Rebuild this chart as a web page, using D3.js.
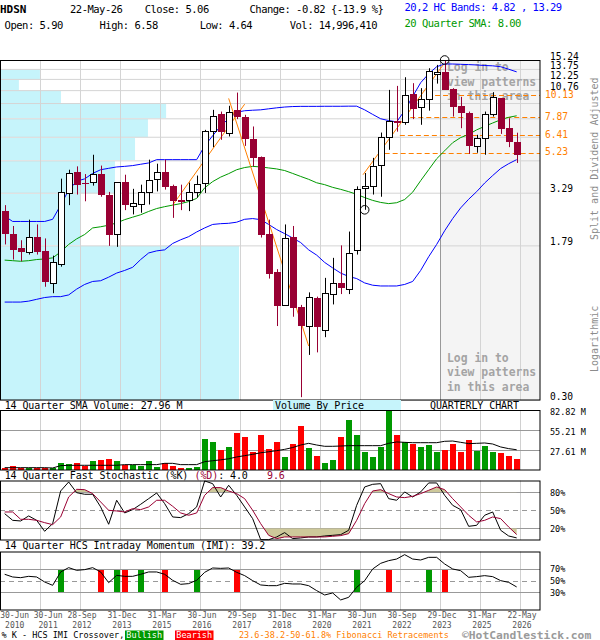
<!DOCTYPE html>
<html>
<head>
<meta charset="utf-8">
<script src="https://cdn.jsdelivr.net/npm/d3@7"></script>
<style>
  body { margin: 0; background: #fff; }
  svg { display: block; font-family: 'DejaVu Sans Mono', monospace; }
</style>
</head>
<body>
<div id="chart"></div>
<script>
// quarterly candles, 2010 Q2 .. 2026 Q2
const opens  = [2.66,2.05,1.74,1.66,1.98,1.67,1.16,1.45,3.28,4.18, 3.68,3.70,4.08,3.22,2.04,3.71,2.83,2.89,3.32,3.86,
                4.18,3.54,3.04,3.04,3.32,3.68,6.72,8.18,6.62,8.57, 7.87,6.13,4.98,2.03,1.32,0.90,1.97,0.88,0.71,0.98,
                0.67,1.02,1.16,1.07,1.70,3.44,3.54,4.52,6.27,7.49, 7.49,10.30,8.84,9.69,13.0,13.32,10.87,8.98,8.25,5.61,
                6.18,8.15,9.78,6.93,5.90];
const highs  = [2.85,2.24,1.90,2.41,2.28,1.94,1.59,3.87,4.29,4.46, 4.08,5.10,4.50,3.32,3.72,4.05,3.44,3.61,4.82,4.60,
                4.82,3.61,3.61,3.70,4.01,6.80,8.57,8.40,8.98,10.46, 8.09,7.07,5.00,2.41,1.36,2.28,2.24,0.90,1.04,0.99,
                1.23,1.55,1.79,2.10,3.54,4.13,4.92,6.59,10.79,11.30, 12.49,11.66,11.01,13.86,14.4,15.24,11.01,9.96,8.40,6.42,
                8.40,10.51,9.80,7.78,6.58];
const lows   = [1.81,1.52,1.49,1.61,1.61,1.11,1.03,1.40,2.85,3.22, 2.98,3.57,3.14,1.78,1.76,2.69,2.56,2.61,2.87,3.34,
                3.41,2.46,2.69,2.66,3.11,3.28,5.57,6.06,6.30,7.70, 5.65,4.46,1.96,1.22,0.705,0.89,0.785,0.31,0.505,0.52,
                0.62,0.905,1.02,1.02,1.61,2.70,3.22,3.14,5.40,6.66, 7.21,7.70,7.21,8.49,11.6,10.80,7.93,6.93,5.15,5.22,
                5.10,7.93,6.49,5.57,4.64];
const closes = [2.03,1.70,1.66,1.98,1.66,1.17,1.47,3.32,4.13,3.61, 3.65,4.08,3.19,2.03,3.71,2.83,2.93,3.32,3.83,4.18,
                3.50,2.98,2.98,3.32,3.64,6.72,8.02,6.62,8.40,7.87, 6.11,4.95,2.02,1.28,0.895,1.96,0.865,0.71,0.99,0.70,
                1.03,1.16,1.09,1.63,3.44,3.54,4.46,6.27,7.55,7.29, 10.18,8.67,9.69,13.43,13.3,10.87,8.84,8.31,5.61,6.18,
                8.15,9.90,6.85,5.87,5.06];

// 20,2 HC bands and 20 quarter SMA
const upperBand = [2.51,2.36,2.36,2.36,2.36,2.36,2.42,2.85,3.39,3.76, 3.86,4.11,4.29,4.36,4.43,4.46,4.50,4.57,4.64,4.82,
                   4.82,4.82,4.82,4.82,4.82,5.65,6.35,7.12,7.73,8.34, 8.48,8.53,8.57,8.67,8.77,8.85,8.90,8.92,8.92,8.92,
                   8.93,8.93,8.93,8.94,8.94,8.57,8.13,7.73,7.57,7.45, 8.50,10.0,11.72,13.0,14.1,14.55,14.55,14.5,14.45,14.39,
                   14.3,14.25,14.1,13.7,13.29];
const smaLine   = [1.51,1.50,1.49,1.50,1.52,1.53,1.55,1.66,1.81,1.93, 2.03,2.19,2.22,2.26,2.32,2.41,2.48,2.55,2.65,2.74,
                   2.80,2.85,2.90,2.97,3.08,3.48,3.74,3.94,4.10,4.29, 4.40,4.46,4.43,4.38,4.33,4.25,4.11,3.97,3.84,3.69,
                   3.61,3.50,3.42,3.33,3.23,3.11,3.01,2.94,2.90,2.93, 3.04,3.31,3.78,4.29,4.87,5.34,5.86,6.22,6.45,6.80,
                   7.08,7.36,7.64,7.86,8.00];
const lowerBand = [0.93,0.93,0.93,0.94,0.96,0.98,0.99,0.99,1.01,1.08, 1.14,1.18,1.19,1.24,1.30,1.34,1.39,1.52,1.64,1.68,
                   1.70,1.83,1.91,1.98,2.09,2.19,2.28,2.30,2.31,2.34, 2.42,2.44,2.41,2.28,2.15,2.05,1.95,1.85,1.70,1.60,
                   1.47,1.38,1.30,1.25,1.22,1.16,1.13,1.12,1.12,1.12, 1.14,1.18,1.34,1.57,1.81,2.12,2.44,2.76,3.05,3.33,
                   3.68,4.01,4.35,4.60,4.82];

// volume (millions) and its 14 quarter SMA
const volumes = [3.2,5.5,3.2,3.2,3.2,3.2,2.3,9.7,8.3,9.7, 5.5,12.9,14.3,15.2,12.9,7.4,7.4,5.5,12.9,4.1,
                 9.2,6.0,2.8,3.2,4.1,42.8,39.1,27.6,31.8,51.6, 45.6,25.3,48.3,29.0,39.1,18.0,36.4,60.8,30.4,19.3,
                 9.7,13.8,45.6,69.0,48.3,24.9,18.0,32.2,81.9,48.3, 38.2,36.4,31.8,34.5,24.9,27.6,36.4,24.9,41.4,26.7,
                 33.1,24.9,23.5,19.3,15.0];
const volSMA  = [3.2,3.2,3.2,3.2,3.2,3.2,2.8,6.0,6.4,6.5, 6.5,6.5,6.5,6.5,6.5,7.4,7.4,7.4,7.4,7.4,
                 9.2,9.2,7.4,7.4,7.4,11.5,12.8,14.0,15.5,18.0, 19.8,21.6,23.8,25.2,26.7,28.5,31.0,34.5,36.8,34.5,
                 32.7,32.7,33.1,33.6,33.6,33.6,33.6,33.6,36.8,38.7, 38.2,37.7,37.7,37.7,37.7,39.6,40.0,38.2,36.4,36.8,
                 37.3,35.9,31.8,29.5,27.96];

// 14 quarter fast stochastic
const stochK = [44.4,33.3,32.2,40.6,33.3,15,27.8,82.2,97.2,79.4, 76.7,76.7,55.6,26.7,66.7,45.6,51.1,60,69.4,78.9,
                61.1,38.9,37.8,44.4,55.6,98.9,94.4,72.2,91.7,75, 55.6,36.1,1.1,1,5.6,12.8,2.8,3.9,5.6,5.6,
                7.2,8.3,9.4,16.7,58.3,88.9,93.3,94.4,69.4,66.7, 80.6,72.2,80.6,95.6,95.6,75,58.3,51.1,23.3,25,
                41.7,47.2,16.7,7.2,4.0];
const stochD = [47.2,47.2,35,35,33.3,29.4,26.1,38.9,72.2,85, 84.4,77.8,63.9,50,48.9,47.2,52.8,51.1,55.6,66.7,
                66.7,56.7,45.6,41.7,45.6,75,87.8,87.8,82.2,77.8, 69.4,50,27.8,8.3,2.8,5.6,5.6,5.6,5.6,5.6,
                5.6,6.7,7.8,11.1,33.3,61.1,82.2,84.4,77.8,72.2, 71.1,73.3,77.8,83.3,88.9,84.4,69.4,55.6,41.7,30.6,
                33.3,38.9,36.1,22.2,9.6];

// 14 quarter HCS intraday momentum
const imi = [60.9,56.3,55.1,57.4,56.3,47.7,42,64.9,72.3,67.7, 68.9,72.3,64.9,46.6,59.1,57.4,57.4,60.9,64.9,64.9,
             60.9,50.6,43.7,44.9,50.6,64.3,71.7,71.1,71.7,64.3, 58.6,50,42.6,41.4,41.4,45.4,44.3,44.3,41.4,32.9,
             25.4,28.9,16.9,21.4,38.6,50,70,79.7,84.3,87.1, 94.6,87.1,85.4,90,90,78.6,70,67.1,55.7,56.9,
             58.6,56.9,50,47.1,39.2];
const bullishIdx = [7, 14, 17, 24, 44, 53];
const bearishIdx = [12, 15, 20, 29, 48, 55];

// axis ticks
const priceTicks = [0.30, 1.79, 3.29, 4.78, 6.28, 7.77, 9.27, 10.76, 12.25, 13.75, 15.24];
const priceTickLabels = ['0.30', '1.79', '3.29', '', '', '', '', '10.76', '12.25', '13.75', '15.24'];
const volTicks = [27.61, 55.21, 82.82];
const stochTicks = [20, 50, 80];
const imiTicks = [30, 50, 70];
const dateTickIdx = [0, 4, 9, 14, 19, 24, 29, 34, 39, 44, 49, 54, 59, 64];
const dateTickDay = ['30-Jun','30-Jun','28-Sep','31-Dec','31-Mar','30-Jun','29-Sep','31-Dec','31-Mar','30-Jun','30-Sep','29-Dec','31-Mar','22-May'];
const dateTickYear = ['2010','2011','2012','2013','2015','2016','2017','2018','2020','2021','2022','2023','2025','2026'];

// volume by price, share of the largest band, one per price band (low to high)
const vbpShare = [100, 33.9, 48.1, 56.5, 61.9, 69.5, 25.5, 7.9, 16.7, 0];

// fibonacci retracements and trend lines
const fibLevels = [10.13, 7.87, 6.41, 5.23];
const fibLabels = ['10.13', '7.87', '6.41', '5.23'];
const fibStartIdx = [52.8, 50.7, 49.4, 47.5];
const trendFromIdx = [21, 28, 44.8];
const trendFromPx  = [2.85, 9.78, 4.05];
const trendToIdx   = [30, 38, 54.8];
const trendToPx    = [9.15, 0.56, 14.39];
const pivotIdx = [45, 55];
const pivotPx  = [2.70, 15.24];

const headerRow1 = ['22-May-26', 'Close: 5.06', 'Change: -0.82 {-13.9 %}'];
const headerRow2 = ['Open: 5.90', 'High: 6.58', 'Low: 4.64', 'Vol: 14,996,410'];

// dimensions
const W = 600, H = 640, plotW = 540;
const maroon = '#990033';

const svg = d3.select('#chart').append('svg')
  .attr('width', W).attr('height', H);

const x = d3.scaleLinear().domain([0, 64]).range([4.67, 516.67]);
const yP = d3.scaleLog().domain([0.30, 15.24]).range([400, 60]);
const yV = d3.scaleLinear().domain([0, 82.82]).range([470, 410]);
const yS = d3.scaleLinear().domain([0, 100]).range([540.3, 480.3]);
const yI = d3.scaleLinear().domain([0, 100]).range([609.8, 551.5]);
const vbpX = d3.scaleLinear().domain([0, 100]).range([0, 239]);

const cx = i => Math.round(x(i)) + 0.5;
const gx = i => Math.round(x(i) + 3.33) + 0.5;

// header
const hdr = svg.append('g').attr('font-size', 10.5).attr('letter-spacing', -0.5);
hdr.append('text').attr('x', 0).attr('y', 13).attr('font-weight', 'bold')
   .attr('font-size', 11).attr('letter-spacing', 0).text('HDSN');
[70, 144.7, 249.5].forEach((px, k) => hdr.append('text').attr('x', px).attr('y', 13).text(headerRow1[k]));
[4.6, 99.5, 199.8, 289.7].forEach((px, k) => hdr.append('text').attr('x', px).attr('y', 28.5).text(headerRow2[k]));
hdr.append('text').attr('x', 404.5).attr('y', 11).attr('fill', '#0000ff')
   .text(`20,2 HC Bands: ${lowerBand[64].toFixed(2)} , ${upperBand[64].toFixed(2)}`);
hdr.append('text').attr('x', 404.5).attr('y', 27).attr('fill', '#009900')
   .text(`20 Quarter SMA: ${smaLine[64].toFixed(2)}`);

// ---------- main price panel ----------
const main = svg.append('g');
main.append('rect').attr('x', 0).attr('y', 60).attr('width', plotW).attr('height', 340).attr('fill', '#fff');
main.append('rect').attr('x', gx(54)).attr('y', 60).attr('width', plotW - gx(54)).attr('height', 340).attr('fill', '#f4f4f4');

// volume by price bands
main.append('g').selectAll('rect')
  .data(vbpShare)
  .join('rect')
  .attr('x', 0)
  .attr('y', (d, i) => Math.round(yP(priceTicks[i + 1])) + 1)
  .attr('width', d => vbpX(d))
  .attr('height', (d, i) => Math.round(yP(priceTicks[i])) - Math.round(yP(priceTicks[i + 1])) - 1)
  .attr('fill', '#c6f4fb');

// grid
const gridY = main.append('g')
  .call(d3.axisRight(yP).tickValues(priceTicks).tickSize(plotW).tickFormat(''));
gridY.select('.domain').remove();
gridY.selectAll('line').attr('stroke', '#d4d4d4');

main.append('g').selectAll('line')
  .data(dateTickIdx.slice(1))
  .join('line')
  .attr('x1', d => gx(d)).attr('x2', d => gx(d))
  .attr('y1', 60).attr('y2', 400)
  .attr('stroke', d => d === 54 ? '#999' : '#d4d4d4');

// pattern notices
const notice = ['Log in to', 'view patterns', 'in this area'];
[71, 361.5].forEach(y0 => {
  main.append('g').selectAll('text')
    .data(notice)
    .join('text')
    .attr('x', 447).attr('y', (d, i) => y0 + i * 14.7)
    .attr('font-size', 11.4).attr('font-weight', 'bold').attr('fill', '#a4a4a4')
    .text(d => d);
});

// fibonacci retracements
main.append('g').selectAll('line')
  .data(fibLevels)
  .join('line')
  .attr('x1', (d, i) => x(fibStartIdx[i])).attr('x2', plotW)
  .attr('y1', d => Math.round(yP(d)) + 0.5).attr('y2', d => Math.round(yP(d)) + 0.5)
  .attr('stroke', '#ff8000').attr('stroke-dasharray', '5,3');

// bands
const bandLine = d3.line().x((d, i) => x(i)).y(d => yP(d));
[[upperBand, '#0000ff'], [lowerBand, '#0000ff'], [smaLine, '#009900']].forEach(([arr, col]) => {
  main.append('path').datum(arr).attr('d', bandLine)
    .attr('fill', 'none').attr('stroke', col).attr('stroke-width', 1);
});

// trend lines
main.append('g').selectAll('line')
  .data(trendFromIdx)
  .join('line')
  .attr('x1', d => x(d)).attr('y1', (d, i) => yP(trendFromPx[i]))
  .attr('x2', (d, i) => x(trendToIdx[i])).attr('y2', (d, i) => yP(trendToPx[i]))
  .attr('stroke', '#ff8000').attr('stroke-width', 1);

// candles
const candles = main.append('g').selectAll('g')
  .data(opens)
  .join('g');
candles.append('line')
  .attr('x1', (d, i) => cx(i)).attr('x2', (d, i) => cx(i))
  .attr('y1', (d, i) => yP(highs[i])).attr('y2', (d, i) => yP(lows[i]))
  .attr('stroke', (d, i) => closes[i] >= d ? '#000' : maroon);
candles.append('rect')
  .attr('x', (d, i) => closes[i] >= d ? cx(i) - 3 : cx(i) - 3.5)
  .attr('y', (d, i) => Math.round(yP(Math.max(d, closes[i]))) + (closes[i] >= d ? 0.5 : 0))
  .attr('width', (d, i) => closes[i] >= d ? 6 : 7)
  .attr('height', (d, i) => Math.max(1, Math.round(yP(Math.min(d, closes[i])) - yP(Math.max(d, closes[i])))))
  .attr('fill', (d, i) => closes[i] >= d ? '#fff' : maroon)
  .attr('stroke', (d, i) => closes[i] >= d ? '#000' : 'none');

// pivot circles
main.append('g').selectAll('circle')
  .data(pivotIdx)
  .join('circle')
  .attr('cx', d => x(d)).attr('cy', (d, i) => yP(pivotPx[i]))
  .attr('r', 4.3).attr('fill', 'none').attr('stroke', '#000');

main.append('rect').attr('x', 0.5).attr('y', 60.5).attr('width', plotW - 0.5).attr('height', 339.5)
  .attr('fill', 'none').attr('stroke', '#000');

// right price labels
const priceLabel = new Map(priceTicks.map((v, i) => [v, priceTickLabels[i]]));
const pAxis = svg.append('g').attr('transform', `translate(${plotW},0)`)
  .call(d3.axisRight(yP).tickValues(priceTicks).tickSize(0).tickPadding(10).tickFormat(d => priceLabel.get(d)));
pAxis.attr('font-family', null).attr('font-size', 9.6);
pAxis.select('.domain').remove();
pAxis.selectAll('text').attr('dy', '-0.8').attr('fill', '#000');

svg.append('g').selectAll('text')
  .data(fibLevels)
  .join('text')
  .attr('x', 545).attr('y', d => yP(d) + 2.8)
  .attr('font-size', 9.6).attr('fill', '#ff8000')
  .text((d, i) => fibLabels[i]);

svg.append('text').attr('transform', 'translate(598,240) rotate(-90)')
  .attr('font-size', 10).attr('fill', '#8c8c8c').text('Split and Dividend Adjusted');
svg.append('text').attr('transform', 'translate(598,372) rotate(-90)')
  .attr('font-size', 10).attr('fill', '#8c8c8c').text('Logarithmic');

// panel labels
const lbl = svg.append('g').attr('font-size', 10).attr('letter-spacing', -0.1);
lbl.append('rect').attr('x', 273).attr('y', 400).attr('width', 128).attr('height', 10.5).attr('fill', '#c6f4fb');
lbl.append('text').attr('x', 4.7).attr('y', 409).text(`14 Quarter SMA Volume: ${volSMA[64].toFixed(2)} M`);
lbl.append('text').attr('x', 275).attr('y', 409).text('Volume By Price');
lbl.append('text').attr('x', 430).attr('y', 409).text('QUARTERLY CHART');
const stLbl = lbl.append('text').attr('y', 479);
stLbl.append('tspan').attr('x', 4.7).text('14 Quarter Fast Stochastic (%K)');
stLbl.append('tspan').attr('x', 194.5).attr('fill', maroon).text('(%D)');
stLbl.append('tspan').text(`: ${stochK[64].toFixed(1)}`);
stLbl.append('tspan').attr('x', 267).attr('fill', maroon).text(stochD[64].toFixed(1));
lbl.append('text').attr('x', 4.7).attr('y', 549).text(`14 Quarter HCS Intraday Momentum (IMI): ${imi[64].toFixed(1)}`);

// helper for lower panels
function panelFrame(top, bottom) {
  const g = svg.append('g');
  g.append('rect').attr('x', 0).attr('y', top).attr('width', plotW).attr('height', bottom - top).attr('fill', '#fff');
  g.append('g').selectAll('line')
    .data(dateTickIdx.slice(1))
    .join('line')
    .attr('x1', d => gx(d)).attr('x2', d => gx(d))
    .attr('y1', top).attr('y2', bottom)
    .attr('stroke', '#d0d0d0');
  return g;
}
function hLines(g, scale, ticks, dashed) {
  g.append('g').selectAll('line')
    .data(ticks)
    .join('line')
    .attr('x1', 0).attr('x2', plotW)
    .attr('y1', d => Math.round(scale(d)) + 0.5).attr('y2', d => Math.round(scale(d)) + 0.5)
    .attr('stroke', '#999')
    .attr('stroke-dasharray', d => dashed.includes(d) ? '5,4' : null);
}
function frame(top, bottom) {
  svg.append('rect').attr('x', 0.5).attr('y', top + 0.5).attr('width', plotW - 0.5).attr('height', bottom - top - 0.5)
    .attr('fill', 'none').attr('stroke', '#000');
}
function rightLabels(scale, ticks, fmt, dy, size) {
  const a = svg.append('g').attr('transform', `translate(${plotW},0)`)
    .call(d3.axisRight(scale).tickValues(ticks).tickSize(0).tickPadding(10).tickFormat(fmt));
  a.attr('font-family', null).attr('font-size', size);
  a.select('.domain').remove();
  a.selectAll('text').attr('dy', dy).attr('fill', '#000');
}

// ---------- volume panel ----------
const vol = panelFrame(410, 470);
hLines(vol, yV, volTicks.slice(0, 2), []);
vol.append('g').selectAll('rect')
  .data(volumes)
  .join('rect')
  .attr('x', (d, i) => cx(i) - 3.5)
  .attr('y', d => Math.round(yV(d)))
  .attr('width', 6)
  .attr('height', d => 470 - Math.round(yV(d)))
  .attr('fill', (d, i) => closes[i] >= opens[i] ? '#009900' : '#ff0000');
vol.append('path').datum(volSMA)
  .attr('d', d3.line().x((d, i) => x(i)).y(d => yV(d)))
  .attr('fill', 'none').attr('stroke', '#000');
frame(410, 470);
rightLabels(yV, volTicks, d => d.toFixed(2) + ' M', 4.5, 8.5);

// ---------- stochastic panel ----------
const st = panelFrame(480.5, 540);
hLines(st, yS, stochTicks, [50]);
const defs = svg.append('defs');
defs.append('clipPath').attr('id', 'clipHi').append('rect')
  .attr('x', 0).attr('y', 480).attr('width', plotW).attr('height', yS(80) - 480);
defs.append('clipPath').attr('id', 'clipLo').append('rect')
  .attr('x', 0).attr('y', yS(20)).attr('width', plotW).attr('height', 541 - yS(20));
st.append('path').datum(stochD)
  .attr('d', d3.area().x((d, i) => x(i)).y0(yS(80)).y1(d => yS(d)))
  .attr('fill', '#cdc89a').attr('clip-path', 'url(#clipHi)');
st.append('path').datum(stochD)
  .attr('d', d3.area().x((d, i) => x(i)).y0(yS(20)).y1(d => yS(d)))
  .attr('fill', '#cdc89a').attr('clip-path', 'url(#clipLo)');
const stLine = d3.line().x((d, i) => x(i)).y(d => yS(d));
st.append('path').datum(stochK).attr('d', stLine).attr('fill', 'none').attr('stroke', '#000');
st.append('path').datum(stochD).attr('d', stLine).attr('fill', 'none').attr('stroke', maroon);
frame(480.5, 540);
rightLabels(yS, [20, 50, 80], d => d + '%', '0.35em', 8.5);

// ---------- IMI panel ----------
const im = panelFrame(551.5, 610);
hLines(im, yI, imiTicks, [50]);
[[bullishIdx, '#009900'], [bearishIdx, '#ff0000']].forEach(([idx, col]) => {
  im.append('g').selectAll('rect')
    .data(idx)
    .join('rect')
    .attr('x', d => cx(d) - 3.5)
    .attr('y', Math.round(yI(70)) + 1)
    .attr('width', 6)
    .attr('height', Math.round(yI(30)) - Math.round(yI(70)) - 1)
    .attr('fill', col);
});
im.append('path').datum(imi)
  .attr('d', d3.line().x((d, i) => x(i)).y(d => yI(d)))
  .attr('fill', 'none').attr('stroke', '#000');
frame(551.5, 610);
rightLabels(yI, imiTicks, d => d + '%', '0.35em', 8.5);

// ---------- date labels (two-line) ----------
const dates = svg.append('g').attr('font-size', 8).attr('fill', '#555').attr('text-anchor', 'middle');
let prevEnd = -Infinity;
dateTickIdx.forEach((idx, k) => {
  const w = dateTickDay[k].length * 4.9;
  const start = Math.max(gx(idx) + 1.5 - w / 2, 0, prevEnd + 4);
  prevEnd = start + w;
  const t = dates.append('text').attr('y', 618);
  t.append('tspan').attr('x', start + w / 2).text(dateTickDay[k]);
  t.append('tspan').attr('x', start + w / 2).attr('dy', 9.6).text(dateTickYear[k]);
});

// ---------- footer ----------
const ft = svg.append('g').attr('font-size', 8.5);
ft.append('text').attr('x', 1.5).attr('y', 638).text('% K - HCS IMI Crossover,');
ft.append('rect').attr('x', 125).attr('y', 630.5).attr('width', 38.5).attr('height', 9.5).attr('fill', '#009900');
ft.append('text').attr('x', 144.2).attr('y', 638.2).attr('text-anchor', 'middle').attr('fill', '#fff').text('Bullish');
ft.append('rect').attr('x', 175).attr('y', 630.5).attr('width', 38.5).attr('height', 9.5).attr('fill', '#ff0000');
ft.append('text').attr('x', 194.2).attr('y', 638.2).attr('text-anchor', 'middle').attr('fill', '#fff').text('Bearish');
ft.append('text').attr('x', 239).attr('y', 638).attr('fill', '#ff8000')
  .text('23.6-38.2-50-61.8% Fibonacci Retracements');
svg.append('text').attr('x', 462).attr('y', 639).attr('font-size', 11.3).attr('font-weight', 'bold')
  .attr('fill', '#9a9a9a').text('\u00A9HotCandlestick.com');
</script>
</body>
</html>
